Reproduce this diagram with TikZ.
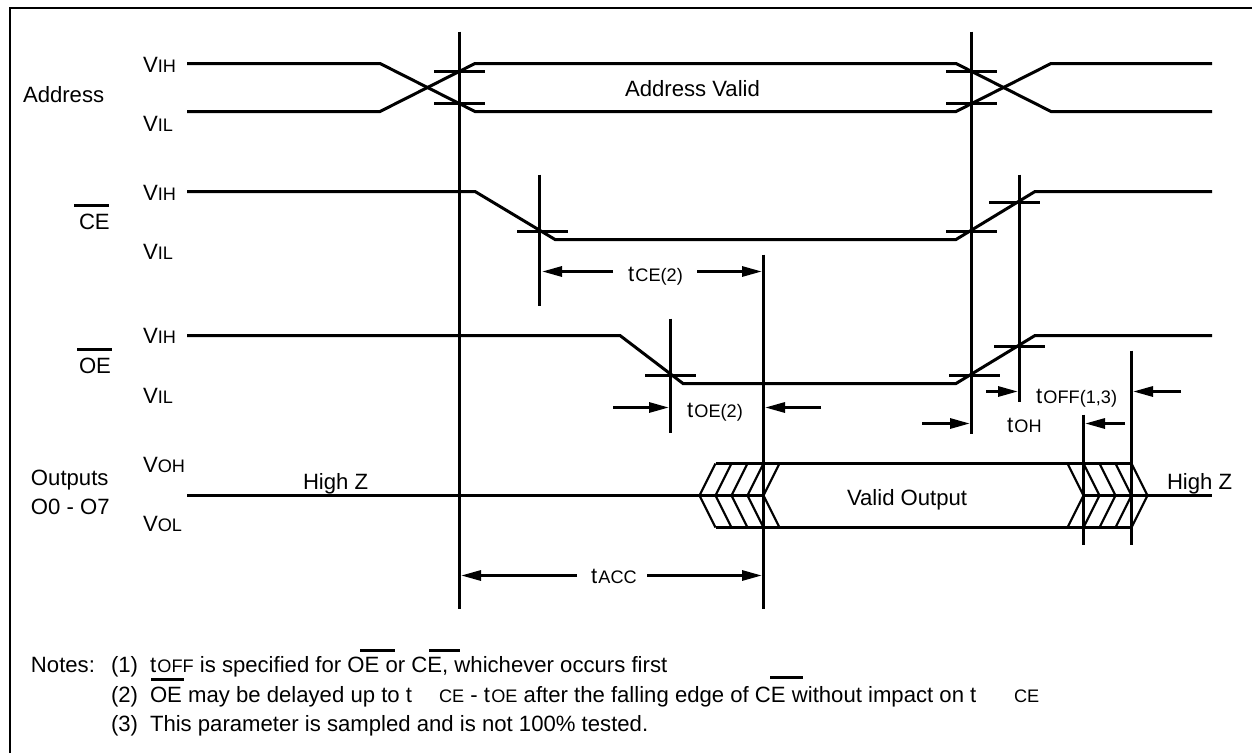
\documentclass[tikz,border=0pt]{standalone}
\usepackage{fontspec}
\setmainfont{Liberation Sans}
\usetikzlibrary{arrows.meta}
\newcommand{\smtxt}[1]{{\fontsize{13.6pt}{15pt}\selectfont #1}}
\newcommand{\tsub}[1]{t\kern1pt\smtxt{#1}}
\tikzset{
  wave/.style={line width=2.25pt, line join=miter},
  edgeline/.style={line width=1.6pt},
  tickline/.style={line width=2.25pt},
  dimline/.style={line width=2.25pt, -{Triangle[length=15pt,width=7.5pt]}},
  lbl/.style={font=\fontsize{16.6pt}{18pt}\selectfont, anchor=base west, inner sep=0pt, outer sep=0pt},
  barline/.style={line width=2.25pt}
}
\begin{document}
\begin{tikzpicture}[x=0.75pt,y=-0.75pt]
\useasboundingbox (0,0) rectangle (1252,753);
% Frame, top and left only
\draw[line width=1.5pt] (10,753) -- (10,8) -- (1252,8);

\begin{scope}[yshift=-0.375pt]
% --- Address ---
\draw[wave] (187,63) -- (380,63) -- (475,111) -- (956,111) -- (1051,63) -- (1212,63);
\draw[wave] (187,111) -- (380,111) -- (475,63) -- (956,63) -- (1051,111) -- (1212,111);
\foreach \tx in {459.5,971.5} {
  \draw[tickline] (\tx-25.5,71) -- ++(51,0);
  \draw[tickline] (\tx-25.5,103) -- ++(51,0);
}

% --- CE ---
\draw[wave] (187,191) -- (475,191) -- (555,239) -- (956,239) -- (1035,191) -- (1212,191);
\draw[tickline] (517,231) -- ++(51,0);
\draw[tickline] (946,231) -- ++(51,0);
\draw[tickline] (989,202) -- ++(51,0);

% --- OE ---
\draw[wave] (187,335) -- (620,335) -- (683,383) -- (956,383) -- (1035,335) -- (1212,335);
\draw[tickline] (645,375) -- ++(51,0);
\draw[tickline] (949,375) -- ++(51,0);
\draw[tickline] (994,346) -- ++(51,0);

% --- Outputs ---
\draw[wave] (187,495) -- (763,495);
\draw[wave] (1083,495) -- (1212,495);
\draw[wave] (715.5,463) -- (1131.5,463);
\draw[wave] (715.5,527) -- (1131.5,527);
\foreach \cx in {699.5,715.5,731.5,747.5,763.5} {
  \draw[edgeline] (\cx+16,463) -- (\cx,495) -- (\cx+16,527);
}
\foreach \cx in {1083.5,1099.5,1115.5,1131.5,1147.5} {
  \draw[edgeline] (\cx-16,463) -- (\cx,495) -- (\cx-16,527);
}

% Vertical reference lines
\draw[tickline] (459.5,31) -- (459.5,608);
\draw[tickline] (971.5,31) -- (971.5,433);
\draw[tickline] (763.5,254) -- (763.5,608);
\draw[tickline] (539.5,174) -- (539.5,305);
\draw[tickline] (1019.5,174) -- (1019.5,401);
\draw[tickline] (670.5,318) -- (670.5,432);
\draw[tickline] (1083.5,414) -- (1083.5,544);
\draw[tickline] (1131.5,350) -- (1131.5,544);

% Timing arrows
\draw[dimline] (613,271) -- (542,271);
\draw[dimline] (697,271) -- (762,271);
\draw[dimline] (613,407) -- (669,407);
\draw[dimline] (821,407) -- (765,407);
\draw[dimline] (986,391) -- (1018,391);
\draw[dimline] (1181,391) -- (1133,391);
\draw[dimline] (922,423) -- (970,423);
\draw[dimline] (1125,423) -- (1085,423);
\draw[dimline] (577,575) -- (461,575);
\draw[dimline] (647,575) -- (762,575);

% Overbars
\draw[barline] (74,205) -- (109,205);
\draw[barline] (77,349) -- (112,349);
\draw[barline] (360,650) -- (395,650);
\draw[barline] (429,650) -- (460,650);
\draw[barline] (151,679) -- (184,679);
\draw[barline] (770,677) -- (803,677);
\end{scope}

% Signal names
\node[lbl] (address) at (23,102) {Address};
\node[lbl] (ce) at (79,229) {CE};
\node[lbl] (oe) at (79,373) {OE};
\node[lbl] (outputs) at (31,485) {Outputs};
\node[lbl] (ozero) at (31,514) {O0 - O7};

% Levels
\node[lbl] (vih1) at (143,72) {V\smtxt{IH}};
\node[lbl] (vil1) at (143,131) {V\smtxt{IL}};
\node[lbl] (vih2) at (143,200) {V\smtxt{IH}};
\node[lbl] (vil2) at (143,259) {V\smtxt{IL}};
\node[lbl] (vih3) at (143,343) {V\smtxt{IH}};
\node[lbl] (vil3) at (143,403) {V\smtxt{IL}};
\node[lbl] (voh) at (143,472) {V\smtxt{OH}};
\node[lbl] (vol) at (143,531) {V\smtxt{OL}};

% Waveform texts
\node[lbl] (addrvalid) at (625,96) {Address Valid};
\node[lbl] (highz1) at (303,489) {High Z};
\node[lbl] (highz2) at (1167,489) {High Z};
\node[lbl] (validout) at (847,505) {Valid Output};

% Timing labels
\node[lbl] (tce) at (628,281) {\tsub{CE(2)}};
\node[lbl] (toe) at (687,417) {\tsub{OE(2)}};
\node[lbl] (toff) at (1036,403) {\tsub{OFF(1,3)}};
\node[lbl] (toh) at (1007,432) {\tsub{OH}};
\node[lbl] (tacc) at (591,583) {\tsub{ACC}};

% Notes
\node[lbl] (notes) at (31,672) {Notes:};
\node[lbl] (n1) at (111,672) {(1)};
\node[lbl] (n1a) at (150,672) {\tsub{OFF} is specified for OE or CE, whichever occurs first};
\node[lbl] (n2) at (111,702) {(2)};
\node[lbl] (n2a) at (150,702) {OE may be delayed up to t};
\node[lbl] (n2b) at (439,702) {\smtxt{CE} - \tsub{OE} after the falling edge of CE without impact on t};
\node[lbl] (n2c) at (1014,702) {\smtxt{CE}};
\node[lbl] (n3) at (111,731) {(3)};
\node[lbl] (n3a) at (150,731) {This parameter is sampled and is not 100\% tested.};
\end{tikzpicture}
\end{document}
